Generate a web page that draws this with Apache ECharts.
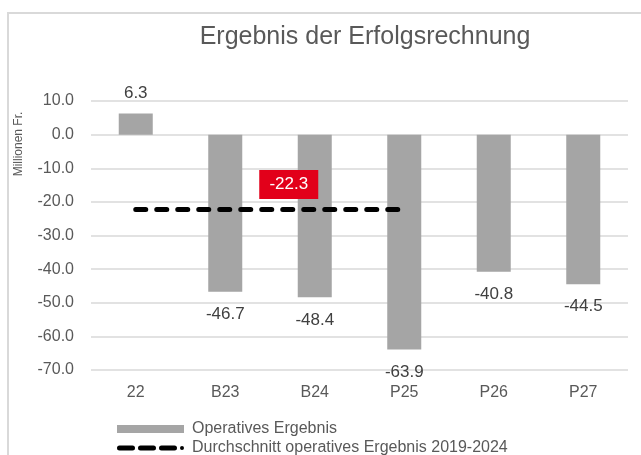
<!DOCTYPE html>
<html>
<head>
<meta charset="utf-8">
<script src="https://cdn.jsdelivr.net/npm/echarts@6/dist/echarts.min.js"></script>
<style>
  html, body { margin: 0; padding: 0; background: #fff; }
  #chart { width: 641px; height: 455px; }
</style>
</head>
<body>
<div id="chart"></div>
<script>
// Daten
var categories = ['22', 'B23', 'B24', 'P25', 'P26', 'P27'];
var operativ = [6.3, -46.7, -48.4, -63.9, -40.8, -44.5];
var durchschnitt = [-22.3, -22.3, -22.3, -22.3, null, null];
var durchschnittWert = -22.3;
var durchschnittLabelKat = 'B24';
var yTicks = { min: -70, max: 10, interval: 10 };

var nameBar = 'Operatives Ergebnis';
var nameLine = 'Durchschnitt operatives Ergebnis 2019-2024';

var myChart = echarts.init(document.getElementById('chart'));
var font = 'Liberation Sans, Arial, sans-serif';

// gestrichelte Linie als Legendensymbol (3 Striche + Punkt)
var dashIcon = 'path://M2.5,0H15.5A2.5,2.5,0,0,1,15.5,5H2.5A2.5,2.5,0,0,1,2.5,0Z' +
    'M23.5,0H36.5A2.5,2.5,0,0,1,36.5,5H23.5A2.5,2.5,0,0,1,23.5,0Z' +
    'M44.5,0H57.5A2.5,2.5,0,0,1,57.5,5H44.5A2.5,2.5,0,0,1,44.5,0Z' +
    'M63,2.5A2,2,0,1,1,67,2.5A2,2,0,1,1,63,2.5Z';

// Beschriftung oben bei positiven, unten bei negativen Werten
var barData = operativ.map(function (v) {
    return {
        value: v,
        label: { position: v >= 0 ? 'top' : 'bottom', distance: v >= 0 ? 12 : 14 }
    };
});

var legendText = { fontSize: 16, lineHeight: 16, color: '#595959', fontFamily: font, padding: [0, 0, 0, 3] };

var option = {
    animation: false,
    textStyle: { fontFamily: font },
    graphic: [
        {
            type: 'rect', silent: true,
            shape: { x: 8, y: 13, width: 700, height: 500 },
            style: { fill: 'none', stroke: '#d9d9d9', lineWidth: 2 }
        },
        {
            type: 'text', silent: true,
            x: 19, y: 144, rotation: Math.PI / 2,
            style: {
                text: 'Millionen Fr.', fill: '#595959', font: '12px ' + font,
                align: 'center', verticalAlign: 'middle'
            }
        }
    ],
    title: {
        text: 'Ergebnis der Erfolgsrechnung',
        left: 360, top: 20, textAlign: 'center',
        textStyle: { fontSize: 25, fontWeight: 'normal', color: '#595959', fontFamily: font }
    },
    legend: [
        {
            left: 117, top: 421, padding: 0,
            itemWidth: 67, itemHeight: 8,
            textStyle: legendText,
            data: [{ name: nameBar, icon: 'rect' }]
        },
        {
            left: 117, top: 440, padding: 0,
            itemWidth: 67, itemHeight: 5,
            textStyle: legendText,
            data: [{ name: nameLine, icon: dashIcon }]
        }
    ],
    grid: { left: 91, right: 13, top: 101, bottom: 85 },
    xAxis: {
        type: 'category',
        data: categories,
        axisLine: { show: false },
        axisTick: { show: false },
        axisLabel: { margin: 15, fontSize: 16, color: '#595959', fontFamily: font }
    },
    yAxis: {
        type: 'value',
        min: yTicks.min, max: yTicks.max, interval: yTicks.interval,
        axisLine: { show: false },
        axisTick: { show: false },
        axisLabel: {
            margin: 17, fontSize: 16, color: '#595959', fontFamily: font,
            formatter: function (v) { return v.toFixed(1); }
        },
        splitLine: { lineStyle: { color: '#d9d9d9', width: 1.5 } }
    },
    series: [
        {
            name: nameBar,
            type: 'bar',
            barWidth: 34,
            data: barData,
            itemStyle: { color: '#a5a5a5' },
            label: {
                show: true, fontSize: 17, color: '#404040', fontFamily: font,
                formatter: function (p) { return p.value.toFixed(1); }
            },
            z: 2
        },
        {
            name: nameLine,
            type: 'line',
            data: durchschnitt,
            symbol: 'none',
            lineStyle: { color: '#000', width: 5, type: [10, 11], cap: 'round' },
            itemStyle: { color: '#000' },
            markPoint: {
                symbol: 'rect',
                symbolSize: [59, 29],
                symbolOffset: [-26, -25],
                itemStyle: { color: '#e2001a' },
                label: {
                    show: true, color: '#fff', fontSize: 17, fontFamily: font,
                    formatter: function (p) { return p.value.toFixed(1); }
                },
                data: [{ coord: [durchschnittLabelKat, durchschnittWert], value: durchschnittWert }]
            },
            z: 3
        }
    ]
};
myChart.setOption(option);

window.addEventListener('resize', function () {
    myChart.resize();
});
</script>
</body>
</html>
